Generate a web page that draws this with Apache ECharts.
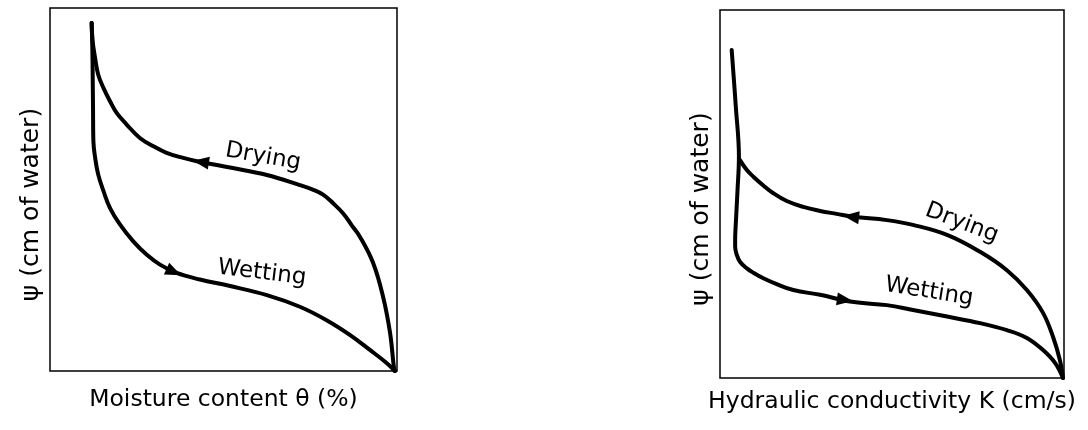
<!DOCTYPE html>
<html>
<head>
<meta charset="utf-8">
<script src="https://cdn.jsdelivr.net/npm/echarts@6/dist/echarts.min.js"></script>
<style>
html,body{margin:0;padding:0;background:#fff;}
#c{width:1088px;height:430px;}
</style>
</head>
<body>
<div id="c"></div>
<script>
// ---- Data (relative units 0-100 in each panel) ----
var leftDrying = [
  [99.4,0],[99.1,1.1],[98.0,10.5],[96.0,20.4],[93.1,29.8],[89.3,37.0],[86.9,40.2],
  [84.5,43.4],[81.6,46.2],[78.8,48.5],[75.9,49.9],[72.0,51.2],[62.5,54.0],[52.7,55.9],
  [42.3,57.8],[38.4,58.7],[33.6,60.1],[29.8,61.9],[25.9,64.2],[22.1,67.9],[19.2,71.1],
  [17.3,74.3],[15.4,78.0],[13.9,81.6],[13.0,86.2],[12.3,90.8],[12.0,95.9]
];
var leftWetting = [
  [12.0,95.9],[12.2,89.0],[12.3,81.6],[12.4,72.5],[12.5,63.4],[13.0,58.8],[13.9,54.1],
  [15.4,49.6],[17.3,44.9],[20.2,40.3],[24.0,35.7],[27.9,32.0],[31.7,29.3],[36.5,27.0],
  [43.2,25.2],[51.9,23.4],[62.5,20.9],[72.0,17.7],[79.7,14.0],[86.5,9.9],
  [92.2,5.8],[97.0,2.2],[99.4,0]
];
var rightDrying = [
  [99.7,0],[98.8,4.9],[96.8,11.2],[93.9,17.7],[89.2,23.9],[83.4,29.3],[75.6,34.3],
  [66.0,38.9],[56.1,41.6],[48.5,42.9],[38.8,43.8],[33.9,44.6],[29.1,45.4],[24.2,46.5],
  [19.4,48.1],[15.5,50.2],[12.6,52.3],[9.7,54.7],[7.8,56.5],[5.8,59.2]
];
var rightWetting = [
  [3.4,89.1],[4.6,73.7],[5.5,60.1],[5.1,51.1],[4.6,42.1],[4.4,37.5],[4.4,35.7],
  [4.9,33.4],[5.8,31.6],[7.8,29.8],[9.7,28.6],[12.6,27.1],[16.5,25.5],[21.3,23.9],
  [29.1,22.6],[38.4,20.7],[48.5,19.8],[56.1,18.5],[66.0,16.7],[75.6,14.9],[83.4,13.0],
  [89.2,10.9],[93.9,7.6],[97.4,4.1],[99.7,0]
];
var leftArrows = [[43.5,57.6,81],[35.7,27.3,-114]];
var rightArrows = [[38.1,43.8,83],[36.3,21.2,-98]];
var leftLabels = [[61.4,59.0,'Drying',-10],[61.1,27.0,'Wetting',-7]];
var rightLabels = [[70.3,42.1,'Drying',-21],[60.8,23.4,'Wetting',-9]];
var xTitles = ['Moisture content θ (%)','Hydraulic conductivity K (cm/s)'];
var yTitle = 'ψ (cm of water)';

var FONT = "'DejaVu Sans', 'Noto Sans', sans-serif";

function axisX(gi, name, gap){
  return {type:'value', gridIndex:gi, min:0, max:100, name:name, nameLocation:'middle', nameGap:gap,
    nameTextStyle:{color:'#000', fontSize:23.5, fontFamily:FONT},
    axisLine:{show:false}, axisTick:{show:false}, axisLabel:{show:false}, splitLine:{show:false}};
}
function axisY(gi, name){
  return {type:'value', gridIndex:gi, min:0, max:100, name:name, nameLocation:'middle', nameGap:6,
    nameTextStyle:{color:'#000', fontSize:25, fontFamily:FONT, padding:[0,30,0,0]},
    axisLine:{show:false}, axisTick:{show:false}, axisLabel:{show:false}, splitLine:{show:false}};
}
function curve(gi, data){
  return {type:'line', xAxisIndex:gi, yAxisIndex:gi, data:data, smooth:0.4, symbol:'none',
    lineStyle:{color:'#000', width:4, join:'round', cap:'round'}, silent:true, animation:false};
}
function arrows(gi, data){
  return {type:'scatter', xAxisIndex:gi, yAxisIndex:gi, symbol:'triangle', symbolSize:[13,16],
    itemStyle:{color:'#000', opacity:1}, silent:true, animation:false, z:5,
    data:data.map(function(d){return {value:[d[0],d[1]], symbolRotate:d[2]};})};
}
function labels(gi, data){
  return {type:'scatter', xAxisIndex:gi, yAxisIndex:gi, symbol:'circle', symbolSize:1, silent:true, animation:false,
    itemStyle:{color:'rgba(255,255,255,0)', opacity:1},
    data:data.map(function(d){return {value:[d[0],d[1]], label:{show:true, formatter:d[2], rotate:d[3],
      position:'inside', color:'#000', opacity:1, fontSize:23, fontFamily:FONT}};})};
}

var chart = echarts.init(document.getElementById('c'), null, {renderer:'canvas'});
chart.setOption({
  backgroundColor:'#fff',
  animation:false,
  grid:[
    {left:50, top:8, width:347, height:363, show:true, borderColor:'#000', borderWidth:1.5, backgroundColor:'transparent'},
    {left:720, top:10, width:344, height:368, show:true, borderColor:'#000', borderWidth:1.5, backgroundColor:'transparent'}
  ],
  xAxis:[axisX(0, xTitles[0], 17), axisX(1, xTitles[1], 12)],
  yAxis:[axisY(0, yTitle), axisY(1, yTitle)],
  series:[
    curve(0, leftDrying), curve(0, leftWetting), arrows(0, leftArrows), labels(0, leftLabels),
    curve(1, rightDrying), curve(1, rightWetting), arrows(1, rightArrows), labels(1, rightLabels)
  ]
});
</script>
</body>
</html>
